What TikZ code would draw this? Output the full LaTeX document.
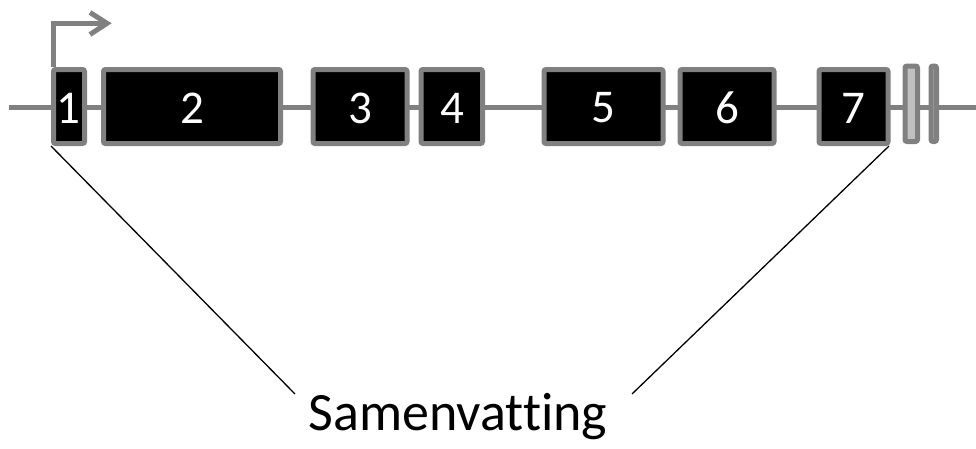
\documentclass[tikz,border=0pt]{standalone}
\usepackage{fontspec}
\setmainfont[Ligatures=NoCommon]{Carlito}
\definecolor{exgray}{RGB}{128,128,128}
\definecolor{lightex}{RGB}{192,192,192}
\begin{document}
\begin{tikzpicture}[x=1pt,y=-1pt,
  exon/.style={draw=exgray,line width=5pt,fill=black,rounded corners=2pt},
  utr/.style={draw=exgray,line width=5pt,fill=lightex,rounded corners=2pt},
  num/.style={text=white,font=\fontsize{47}{47}\selectfont,inner sep=0pt},
  back/.style={draw=exgray,line width=5pt},
  link/.style={draw=black,line width=1.3pt}]
\useasboundingbox (0,0) rectangle (976,448);
% backbone
\coordinate (bl) at (9,107);
\coordinate (br) at (976,107);
\draw[back] (bl) -- (br);
% exons
\draw[exon] (53.5,69.5) rectangle (84.5,143.5);
\draw[exon] (103.5,69.5) rectangle (280.5,143.5);
\draw[exon] (313,69.5) rectangle (407,143.5);
\draw[exon] (421,69.5) rectangle (482.5,143.5);
\draw[exon] (544,69.5) rectangle (663,143.5);
\draw[exon] (680,69.5) rectangle (774,143.5);
\draw[exon] (819,69.5) rectangle (888,143.5);
\draw[utr] (905,66) rectangle (917.5,141.5);
\draw[utr] (931,66) rectangle (936.5,141.5);
\node[num] (n1) at (68,108) {1};
\node[num] (n2) at (192,108) {2};
\node[num] (n3) at (360,108) {3};
\node[num] (n4) at (452,108) {4};
\node[num] (n5) at (603.5,108) {5};
\node[num] (n6) at (727,108) {6};
\node[num] (n7) at (853.5,108) {7};
% start arrow
\coordinate (a0) at (53.3,67);
\coordinate (a1) at (53.3,23.3);
\coordinate (a2) at (107,23.3);
\coordinate (h1) at (90,12.5);
\coordinate (h2) at (90,34.5);
\draw[exgray,line width=5pt] (a0) -- (a1) -- (a2);
\draw[exgray,line width=5pt,line join=miter] (h1) -- (a2) -- (h2);
% summary
\coordinate (e1) at (51,146);
\coordinate (e7) at (889,146);
\node[font=\fontsize{54}{54}\selectfont,inner sep=0pt] (sam) at (458,417) {Samenvatting};
\coordinate (t1) at (295,394);
\coordinate (t2) at (632,394);
\draw[link] (e1) -- (t1);
\draw[link] (e7) -- (t2);
\end{tikzpicture}
\end{document}
